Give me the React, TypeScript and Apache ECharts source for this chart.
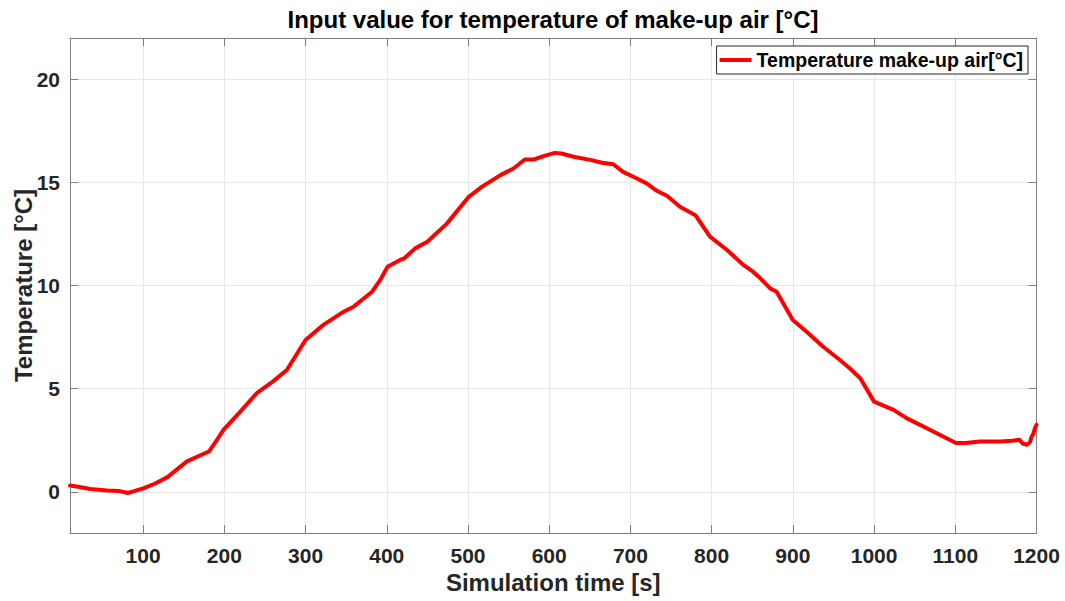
import React, { useEffect, useRef } from "react";
import * as echarts from "echarts";

const timeS = [10, 20, 35, 56, 70, 81, 90, 101, 115, 130, 154, 181, 191, 199, 220, 240, 260, 277, 300, 322, 347, 359, 382, 392, 401, 417, 421, 435, 450, 474, 501, 517, 540, 556, 570, 581, 593, 607, 615, 630, 652, 665, 679, 691, 708, 720, 733, 745, 761, 780, 798, 819, 839, 851, 860, 872, 880, 900, 917, 937, 958, 970, 983, 1000, 1024, 1040, 1065, 1085, 1101, 1113, 1130, 1155, 1170, 1179, 1183, 1188, 1192, 1194, 1196, 1198, 1200];
const tempC = [0.3, 0.24, 0.13, 0.06, 0.04, -0.06, 0.04, 0.18, 0.4, 0.71, 1.47, 1.95, 2.52, 3.0, 3.9, 4.78, 5.35, 5.9, 7.36, 8.09, 8.73, 8.97, 9.7, 10.27, 10.91, 11.25, 11.3, 11.8, 12.12, 13.0, 14.3, 14.78, 15.35, 15.67, 16.11, 16.11, 16.27, 16.43, 16.4, 16.24, 16.08, 15.95, 15.88, 15.51, 15.19, 14.95, 14.58, 14.35, 13.82, 13.41, 12.37, 11.72, 11.0, 10.67, 10.35, 9.86, 9.7, 8.33, 7.76, 7.04, 6.39, 5.99, 5.5, 4.37, 3.97, 3.57, 3.08, 2.68, 2.36, 2.36, 2.44, 2.44, 2.47, 2.52, 2.34, 2.28, 2.4, 2.68, 2.8, 3.08, 3.25];

const xTickValues = [100, 200, 300, 400, 500, 600, 700, 800, 900, 1000, 1100, 1200];
const yTickValues = [0, 5, 10, 15, 20];

const seriesName = "Temperature make-up air[°C]";
const titleText = "Input value for temperature of make-up air [°C]";
const xName = "Simulation time [s]";
const yName = "Temperature [°C]";

const FONT = "'Liberation Sans', Arial, Helvetica, sans-serif";

export default function App() {
  const ref = useRef<HTMLDivElement>(null);

  useEffect(() => {
    if (!ref.current) return;
    const chart = echarts.init(ref.current, null, { renderer: "svg" });
    const data = timeS.map((t, i) => [t, tempC[i]]);
    const axisLineStyle = { color: "#808080", width: 1 };
    const xLabelFmt = (v: number) => (xTickValues.includes(v) ? String(v) : "");
    const yLabelFmt = (v: number) => (yTickValues.includes(v) ? String(v) : "");
    chart.setOption({
      animation: false,
      backgroundColor: "#ffffff",
      textStyle: { fontFamily: FONT },
      title: {
        text: titleText,
        left: 553,
        textAlign: "center",
        top: 7,
        padding: 0,
        textStyle: { fontFamily: FONT, fontWeight: "bold", fontSize: 24, color: "#000000" },
      },
      legend: {
        right: 37,
        top: 46,
        padding: [4, 5, 4, 3],
        itemWidth: 32,
        itemHeight: 4,
        itemGap: 4,
        borderColor: "#262626",
        borderWidth: 1,
        borderRadius: 0,
        backgroundColor: "#ffffff",
        textStyle: { fontFamily: FONT, fontWeight: "bold", fontSize: 19.5, color: "#000000", padding: [0, 0, 0, 0] },
        data: [{ name: seriesName, icon: "rect" }],
      },
      grid: { left: 70, right: 28.5, top: 38, bottom: 68, containLabel: false, outerBoundsMode: "none" },
      xAxis: [
        {
          type: "value",
          min: 10,
          max: 1200,
          splitNumber: 12,
          position: "bottom",
          name: xName,
          nameLocation: "middle",
          nameGap: 36,
          nameTextStyle: { fontFamily: FONT, fontWeight: "bold", fontSize: 24, color: "#262626" },
          axisLine: { show: true, onZero: false, lineStyle: axisLineStyle },
          axisTick: { show: true, inside: true, length: 8, lineStyle: { color: "#808080" } },
          axisLabel: { formatter: xLabelFmt, fontFamily: FONT, fontWeight: "bold", fontSize: 21, color: "#262626", margin: 12 },
          splitLine: { show: true, lineStyle: { color: "#e6e6e6", width: 1 } },
        },
        {
          type: "value",
          min: 10,
          max: 1200,
          splitNumber: 12,
          position: "top",
          axisLine: { show: true, onZero: false, lineStyle: axisLineStyle },
          axisTick: { show: true, inside: true, length: 8, lineStyle: { color: "#808080" } },
          axisLabel: { show: false },
          splitLine: { show: false },
        },
      ],
      yAxis: [
        {
          type: "value",
          min: -2,
          max: 22,
          splitNumber: 5,
          position: "left",
          name: yName,
          nameLocation: "middle",
          nameGap: 35,
          nameMoveOverlap: false,
          nameRotate: 90,
          nameTextStyle: { fontFamily: FONT, fontWeight: "bold", fontSize: 24, color: "#262626" },
          axisLine: { show: true, onZero: false, lineStyle: axisLineStyle },
          axisTick: { show: true, inside: true, length: 8, lineStyle: { color: "#808080" } },
          axisLabel: { formatter: yLabelFmt, fontFamily: FONT, fontWeight: "bold", fontSize: 21, color: "#262626", margin: 10 },
          splitLine: { show: true, lineStyle: { color: "#e6e6e6", width: 1 } },
        },
        {
          type: "value",
          min: -2,
          max: 22,
          splitNumber: 5,
          position: "right",
          axisLine: { show: true, onZero: false, lineStyle: axisLineStyle },
          axisTick: { show: true, inside: true, length: 8, lineStyle: { color: "#808080" } },
          axisLabel: { show: false },
          splitLine: { show: false },
        },
      ],
      series: [
        {
          name: seriesName,
          type: "line",
          xAxisIndex: 0,
          yAxisIndex: 0,
          data,
          symbol: "none",
          showSymbol: false,
          smooth: false,
          color: "#ff0000",
          itemStyle: { color: "#ff0000" },
          lineStyle: { color: "#ff0000", width: 4, join: "round", cap: "round" },
          z: 5,
        },
      ],
    });
    return () => chart.dispose();
  }, []);

  return (
    <div
      ref={ref}
      style={{ position: "fixed", left: 0, top: 0, width: 1065, height: 601, background: "#ffffff" }}
    />
  );
}
